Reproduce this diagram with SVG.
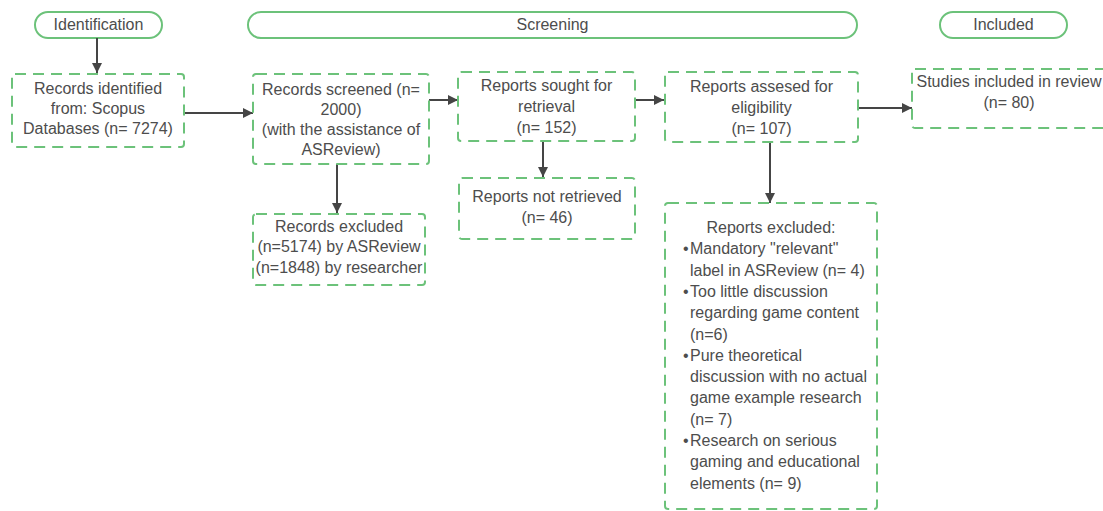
<svg xmlns="http://www.w3.org/2000/svg" width="1103" height="511" viewBox="0 0 1103 511">
  <style>
    .phase { fill: #ffffff; stroke: #6cc27a; stroke-width: 2; }
    .box { fill: #ffffff; stroke: #6cc27a; stroke-width: 2; stroke-dasharray: 11 7; }
    .lbl { font-family: "Liberation Sans", Arial, sans-serif; font-size: 16px; fill: #4d4d4d; }
    .c { text-anchor: middle; }
    .edge { fill: none; stroke: #454545; stroke-width: 2; marker-end: url(#arrow); }
  </style>
  <defs>
    <marker id="arrow" viewBox="0 0 10 10" refX="10" refY="5" markerWidth="10" markerHeight="10" markerUnits="userSpaceOnUse" orient="auto">
      <path d="M0,0 L10,5 L0,10 z" fill="#454545"/>
    </marker>
  </defs>
  <rect width="1103" height="511" fill="#ffffff"/>

  <!-- phase headers -->
  <g id="phase-identification">
    <rect class="phase" x="35" y="12" width="127" height="26" rx="13"/>
    <text class="lbl c" x="98.5" y="30">Identification</text>
  </g>
  <g id="phase-screening">
    <rect class="phase" x="248" y="12" width="609" height="26" rx="13"/>
    <text class="lbl c" x="552.5" y="30">Screening</text>
  </g>
  <g id="phase-included">
    <rect class="phase" x="940" y="12" width="127" height="26" rx="13"/>
    <text class="lbl c" x="1003.5" y="30">Included</text>
  </g>

  <!-- connectors -->
  <g id="connectors">
    <path class="edge" d="M97,38 V73"/>
    <path class="edge" d="M184,113 H253"/>
    <path class="edge" d="M429,100 H458"/>
    <path class="edge" d="M635,100 H664"/>
    <path class="edge" d="M858,108 H912"/>
    <path class="edge" d="M337,164 V213"/>
    <path class="edge" d="M543,133 V177"/>
    <path class="edge" d="M770,142 V203"/>
  </g>

  <!-- process boxes -->
  <g id="records-identified">
    <rect class="box" x="12" y="74" width="172" height="73" rx="3"/>
    <text class="lbl c" x="98" y="94">Records identified</text>
    <text class="lbl c" x="98" y="114">from: Scopus</text>
    <text class="lbl c" x="98" y="134">Databases (n= 7274)</text>
  </g>
  <g id="records-screened">
    <rect class="box" x="253" y="74" width="176" height="90" rx="3"/>
    <text class="lbl c" x="341" y="95">Records screened (n=</text>
    <text class="lbl c" x="341" y="115">2000)</text>
    <text class="lbl c" x="341" y="135">(with the assistance of</text>
    <text class="lbl c" x="341" y="155">ASReview)</text>
  </g>
  <g id="reports-sought">
    <rect class="box" x="458" y="72" width="177" height="69" rx="3"/>
    <text class="lbl c" x="546.5" y="91">Reports sought for</text>
    <text class="lbl c" x="546.5" y="112">retrieval</text>
    <text class="lbl c" x="546.5" y="133">(n= 152)</text>
  </g>
  <g id="reports-assessed">
    <rect class="box" x="665" y="72" width="193" height="70" rx="3"/>
    <text class="lbl c" x="761.5" y="92">Reports assesed for</text>
    <text class="lbl c" x="761.5" y="113">eligibility</text>
    <text class="lbl c" x="761.5" y="134">(n= 107)</text>
  </g>
  <g id="studies-included">
    <rect class="box" x="912" y="69" width="195" height="59" rx="3"/>
    <text class="lbl c" x="1009" y="87">Studies included in review</text>
    <text class="lbl c" x="1009" y="108">(n= 80)</text>
  </g>
  <g id="records-excluded">
    <rect class="box" x="253" y="214" width="172" height="71" rx="3"/>
    <text class="lbl c" x="339" y="232">Records excluded</text>
    <text class="lbl c" x="339" y="252">(n=5174) by ASReview</text>
    <text class="lbl c" x="339" y="273">(n=1848) by researcher</text>
  </g>
  <g id="reports-not-retrieved">
    <rect class="box" x="459" y="178" width="176" height="61" rx="3"/>
    <text class="lbl c" x="547" y="202">Reports not retrieved</text>
    <text class="lbl c" x="547" y="223">(n= 46)</text>
  </g>
  <g id="reports-excluded">
    <rect class="box" x="665" y="203" width="212" height="306" rx="3"/>
    <text class="lbl c" x="771" y="233">Reports excluded:</text>
    <text class="lbl" x="683" y="254.3">•</text>
    <text class="lbl" x="690" y="254.3">Mandatory "relevant"</text>
    <text class="lbl" x="690" y="275.6">label in ASReview (n= 4)</text>
    <text class="lbl" x="683" y="296.9">•</text>
    <text class="lbl" x="690" y="296.9">Too little discussion</text>
    <text class="lbl" x="690" y="318.2">regarding game content</text>
    <text class="lbl" x="690" y="339.5">(n=6)</text>
    <text class="lbl" x="683" y="360.8">•</text>
    <text class="lbl" x="690" y="360.8">Pure theoretical</text>
    <text class="lbl" x="690" y="382.1">discussion with no actual</text>
    <text class="lbl" x="690" y="403.4">game example research</text>
    <text class="lbl" x="690" y="424.7">(n= 7)</text>
    <text class="lbl" x="683" y="446">•</text>
    <text class="lbl" x="690" y="446">Research on serious</text>
    <text class="lbl" x="690" y="467.3">gaming and educational</text>
    <text class="lbl" x="690" y="488.6">elements (n= 9)</text>
  </g>
</svg>
